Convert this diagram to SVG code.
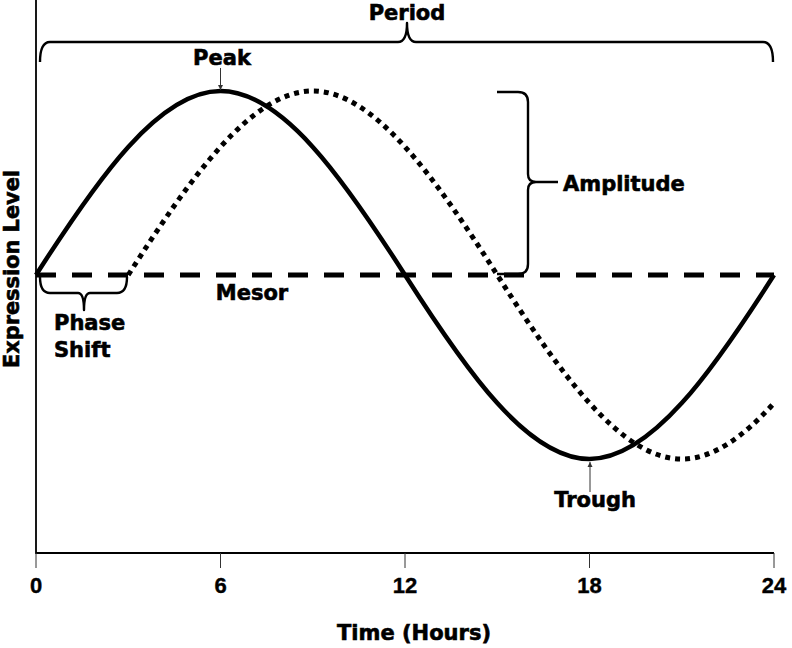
<svg xmlns="http://www.w3.org/2000/svg" width="792" height="648" viewBox="0 0 792 648">
<style>
.lbl{font-family:"DejaVu Sans","Liberation Sans",sans-serif;font-weight:bold;font-size:21px;fill:#000;stroke:#000;stroke-width:0.6}
.num{font-family:"Liberation Sans",Arial,sans-serif;font-weight:bold;font-size:22px;fill:#000;stroke:#000;stroke-width:0.4;text-anchor:middle}
.axis{stroke:#000;stroke-width:1.8;fill:none}
.tick{stroke:#333;stroke-width:1;fill:none}
.brace{stroke:#000;stroke-width:2.4;fill:none;stroke-linejoin:round}
.ptr{stroke:#333;stroke-width:1;fill:none}
</style>
<defs>
<marker id="ah" markerWidth="6" markerHeight="6" refX="5" refY="3" orient="auto" markerUnits="userSpaceOnUse">
<path d="M0,0.5 L5,3 L0,5.5 Z" fill="#333"/>
</marker>
</defs>
<rect width="792" height="648" fill="#fff"/>
<g id="axes">
<path class="axis" d="M36,0 V553 H774"/>
<path class="tick" d="M36,553 V568 M220.5,553 V568 M405,553 V568 M589.5,553 V568 M774,553 V568"/>
<text class="num" x="36" y="593">0</text>
<text class="num" x="220.5" y="593">6</text>
<text class="num" x="405" y="593">12</text>
<text class="num" x="589.5" y="593">18</text>
<text class="num" x="774" y="593">24</text>
<text class="lbl" x="414" y="640" text-anchor="middle">Time (Hours)</text>
<text class="lbl" x="0" y="0" text-anchor="middle" font-size="20" textLength="198" lengthAdjust="spacingAndGlyphs" transform="translate(19,269) rotate(-90)">Expression Level</text>
</g>
<g id="mesor">
<path d="M36,275 H774" stroke="#000" stroke-width="5" stroke-dasharray="20 16" fill="none"/>
<text class="lbl" x="252" y="300" text-anchor="middle">Mesor</text>
</g>
<g id="curves">
<path id="solid" d="M36,275 C97.5,178.7 159,91 220.5,91 C282,91 343.5,178.7 405,275 C466.5,371.3 528,459 589.5,459 C651,459 712.5,371.3 774,275" stroke="#000" stroke-width="4.5" fill="none"/>
<path id="dotted" d="M128.25,275 C189.75,178.7 251.25,91 312.75,91 C374.25,91 435.75,178.7 497.25,275 C558.75,371.3 620.25,459 681.75,459 C712.5,459 743.25,437.1 774,403.1" stroke="#000" stroke-width="5" stroke-dasharray="5 5" fill="none"/>
</g>
<g id="period">
<path class="brace" d="M40,62 Q40,42 50,42 H398 Q407,42 407,23 Q407,42 416,42 H763 Q773,42 773,62"/>
<text class="lbl" x="407" y="20" text-anchor="middle">Period</text>
</g>
<g id="peak">
<text class="lbl" x="222" y="65" text-anchor="middle">Peak</text>
<path class="ptr" d="M220.5,68 V90" marker-end="url(#ah)"/>
</g>
<g id="amplitude">
<path class="brace" d="M497,92 H518 Q528,92 528,102 V174 Q528,182 536,182 Q528,182 528,190 V264 Q528,274 518,274 H497 M536,182 H558"/>
<text class="lbl" x="563" y="191">Amplitude</text>
</g>
<g id="phase">
<path class="brace" d="M40,277 Q40,293 50,293 H78 Q84,293 84,310 Q84,293 90,293 H117 Q127,293 127,277"/>
<text class="lbl" x="54" y="330">Phase</text>
<text class="lbl" x="54" y="357">Shift</text>
</g>
<g id="trough">
<path class="ptr" d="M590,492 V462" marker-end="url(#ah)"/>
<text class="lbl" x="595" y="507" text-anchor="middle">Trough</text>
</g>
</svg>
